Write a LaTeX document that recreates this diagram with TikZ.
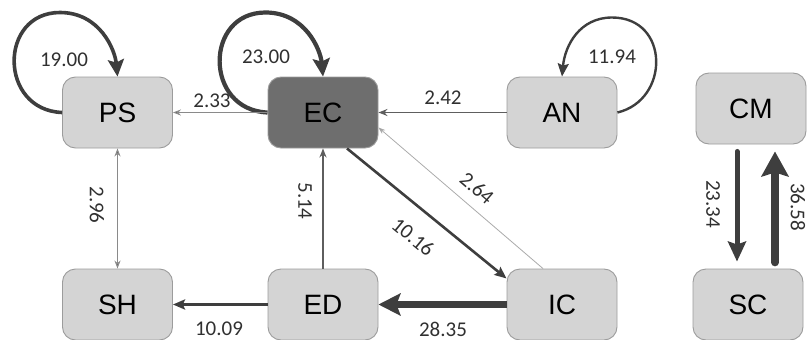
\documentclass[tikz,border=0pt]{standalone}
\usepackage{fontspec}
\setmainfont{Liberation Sans}
\newfontfamily\lblfont{Carlito}
\usetikzlibrary{arrows.meta,calc}
\definecolor{boxfill}{HTML}{D4D4D4}
\definecolor{boxdraw}{HTML}{9C9C9C}
\definecolor{ecfill}{HTML}{6E6E6E}
\definecolor{edgedark}{HTML}{3E3E3E}
\definecolor{edgemid}{HTML}{5E5E5E}
\definecolor{edgegray}{HTML}{8A8A8A}
\definecolor{edgelight}{HTML}{ABABAB}
\definecolor{labelc}{HTML}{303030}
\begin{document}
\begin{tikzpicture}[x=1pt,y=-1pt,
  box/.style={draw=boxdraw, line width=0.9pt, fill=boxfill, rounded corners=13pt,
    minimum width=110pt, minimum height=71pt, inner sep=0pt,
    font=\fontsize{28}{30}\selectfont, text=black},
  lbl/.style={font=\lblfont\fontsize{21}{23}\selectfont, text=labelc, inner sep=0pt},
]
\useasboundingbox (0,0) rectangle (809,340);

% nodes
\node[box] (PS) at (117.5,112.5) {PS};
\node[box, fill=ecfill] (EC) at (323,112.5) {EC};
\node[box] (AN) at (562,112.5) {AN};
\node[box] (CM) at (751,108.5) {CM};
\node[box] (SH) at (117.5,304.5) {SH};
\node[box] (ED) at (323,304.5) {ED};
\node[box] (IC) at (562,304.5) {IC};
\node[box] (SC) at (748,304.5) {SC};

% self loops
\draw[draw=edgedark, line width=3.6pt, -{Stealth[length=17pt,width=16pt,inset=3pt]}]
  (PS.west) .. controls ($(PS.center)+(-119,-2.5)$) and ($(PS.center)+(-119,-100)$) ..
  ($(PS.center)+(-57.5,-100)$) .. controls ($(PS.center)+(-17.5,-100)$) and ($(PS.center)+(-2.5,-62.5)$) .. (PS.north);
\draw[draw=edgedark, line width=4.2pt, -{Stealth[length=18pt,width=17pt,inset=3pt]}]
  (EC.west) .. controls ($(EC.center)+(-119,-2.5)$) and ($(EC.center)+(-119,-100)$) ..
  ($(EC.center)+(-57.5,-100)$) .. controls ($(EC.center)+(-17.5,-100)$) and ($(EC.center)+(-2.5,-62.5)$) .. (EC.north);
\draw[draw=edgedark, line width=2.4pt, -{Stealth[length=13pt,width=11pt,inset=2pt]}]
  (AN.east) .. controls ($(AN.center)+(108,-12.5)$) and ($(AN.center)+(108,-95)$) ..
  ($(AN.center)+(50,-95)$) .. controls ($(AN.center)+(18,-95)$) and ($(AN.center)+(3,-67.5)$) .. (AN.north);

% straight edges
\draw[draw=edgegray, line width=1pt, -{Stealth[length=8pt,width=6pt,fill=edgedark]}] (EC.west) -- (PS.east);
\draw[draw=edgemid, line width=1.4pt, -{Stealth[length=9pt,width=7pt,fill=edgedark]}] (AN.west) -- (EC.east);
\draw[draw=edgegray, line width=1pt, {Stealth[length=8pt,width=6pt,fill=edgedark]}-{Stealth[length=8pt,width=6pt,fill=edgedark]}] (PS.south) -- (SH.north);
\draw[draw=edgemid, line width=1.3pt, -{Stealth[length=9pt,width=7pt,fill=edgedark]}] (ED.north) -- (EC.south);
\draw[draw=edgedark, line width=2.6pt, -{Stealth[length=12pt,width=10pt,inset=2pt]}] (ED.west) -- (SH.east);
\draw[draw=edgedark, line width=7pt, -{Stealth[length=22pt,width=22pt,inset=4pt]}] (IC.west) -- (ED.east);
\draw[draw=edgedark, line width=2.6pt, -{Stealth[length=12pt,width=10pt,inset=2pt]}] ([xshift=24pt]EC.south) -- ([yshift=26pt]IC.west);
\draw[draw=edgelight, line width=0.8pt, -{Stealth[length=7pt,width=5pt,fill=edgemid]}] ([xshift=-19pt]IC.north) -- ([yshift=-15pt]EC.east);
\draw[draw=edgedark, line width=5pt, line cap=round, -{Stealth[length=20pt,width=18pt,inset=3pt]}] ([xshift=-14pt,yshift=-7pt]CM.south) -- ([xshift=-11pt,yshift=7pt]SC.north);
\draw[draw=edgedark, line width=7.5pt, line cap=round, -{Stealth[length=25pt,width=27pt,inset=4pt]}] ([xshift=27pt,yshift=6pt]SC.north) -- ([xshift=24pt,yshift=-7pt]CM.south);

% labels
\node[lbl] (l19) at (64,60) {19.00};
\node[lbl] (l23) at (266,57) {23.00};
\node[lbl] (l1194) at (612,57) {11.94};
\node[lbl] (l233) at (212,101) {2.33};
\node[lbl] (l242) at (443,98) {2.42};
\node[lbl, rotate=-90] (l296) at (97,205) {2.96};
\node[lbl, rotate=-90] (l514) at (305,201) {5.14};
\node[lbl, rotate=-39.5] (l1016) at (413,237) {10.16};
\node[lbl, rotate=-40.7] (l264) at (477,188) {2.64};
\node[lbl] (l1009) at (219,329) {10.09};
\node[lbl] (l2835) at (443,329) {28.35};
\node[lbl, rotate=-90] (l2334) at (713,204) {23.34};
\node[lbl, rotate=-90] (l3658) at (798,207) {36.58};
\end{tikzpicture}
\end{document}
